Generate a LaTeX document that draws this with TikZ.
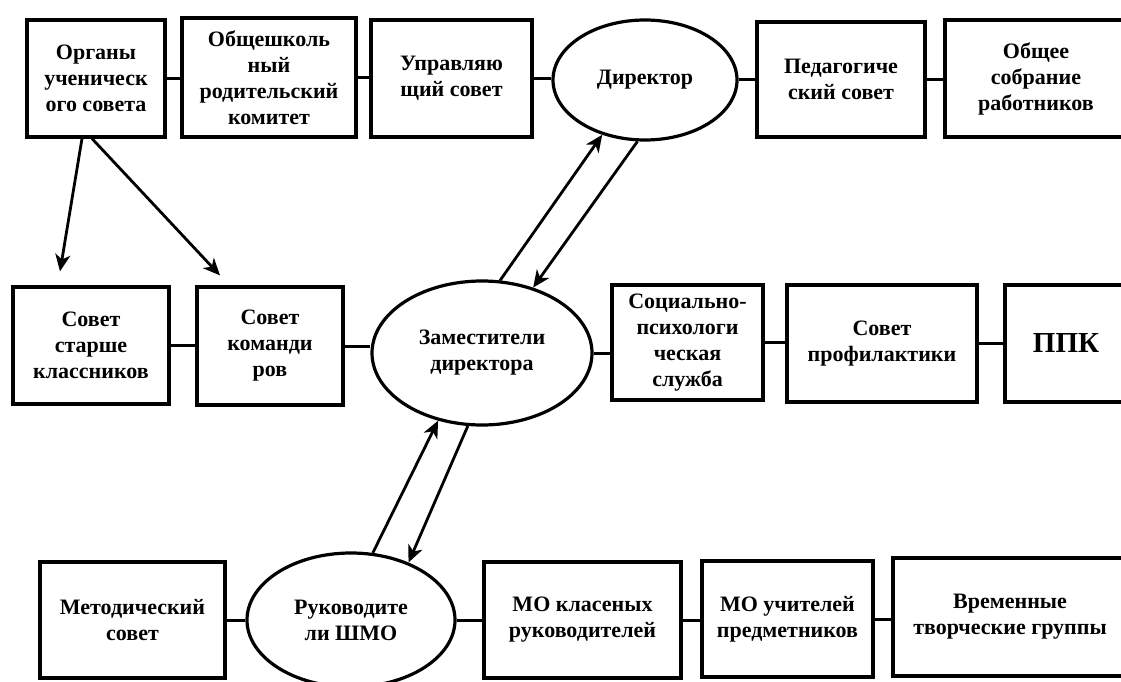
\documentclass[tikz,border=0pt]{standalone}
\usepackage{fontspec}
\setmainfont{Liberation Serif}
\usetikzlibrary{arrows.meta,shapes.geometric}
\tikzset{
  blok/.style={draw, line width=3.2pt, align=center, inner sep=2pt,
    font=\bfseries\fontsize{22}{26}\selectfont},
  oval/.style={blok, ellipse},
  svyaz/.style={line width=3pt},
  strelka/.style={line width=2.8pt, -{Stealth[length=17pt,width=15pt,inset=5pt]}}
}
\begin{document}
\begin{tikzpicture}[x=1pt,y=-1pt]
		\useasboundingbox (0,0) rectangle (1121,682);
		% Верхний ряд
		\node[blok,minimum width=138pt,minimum height=117pt] (org) at (96,78.5) {Органы\\ученическ\\ого совета};
		\node[blok,minimum width=174pt,minimum height=119pt] (rodk) at (269,77.5) {Общешколь\\ный\\родительский\\комитет};
		\node[blok,minimum width=161pt,minimum height=117pt] (upr) at (451.5,78.5) {Управляю\\щий совет};
		\node[oval,minimum width=184pt,minimum height=120pt] (dir) at (645,80) {Директор};
		\node[blok,minimum width=168pt,minimum height=115pt] (ped) at (841,79.5) {Педагогиче\\ский совет};
		\node[blok,minimum width=182pt,minimum height=117pt] (obsh) at (1036,78.5) {Общее\\собрание\\работников};
		% Средний ряд
		\node[blok,minimum width=156pt,minimum height=117pt] (starsh) at (91,345.5) {Совет\\старше\\классников};
		\node[blok,minimum width=146pt,minimum height=118pt] (komand) at (270,346) {Совет\\команди\\ров};
		\node[oval,minimum width=220pt,minimum height=144pt] (zam) at (482,353) {Заместители\\директора};
		\node[blok,minimum width=151pt,minimum height=115pt] (sps) at (687.5,342.5) {Социально-\\психологи\\ческая\\служба};
		\node[blok,minimum width=190pt,minimum height=117pt] (prof) at (882,343.5) {Совет\\профилактики};
		\node[blok,minimum width=122pt,minimum height=117pt,font=\bfseries\fontsize{29}{32}\selectfont] (ppk) at (1066,343.5) {ППК};
		% Нижний ряд
		\node[blok,minimum width=185pt,minimum height=116pt] (metod) at (132.5,620) {Методический\\совет};
		\node[oval,minimum width=208pt,minimum height=134pt] (shmo) at (351,620) {Руководите\\ли ШМО};
		\node[blok,minimum width=197pt,minimum height=116pt] (mokl) at (582.5,620) {МО класеных\\руководителей};
		\node[blok,minimum width=171pt,minimum height=116pt] (moup) at (787.5,619) {МО учителей\\предметников};
		\node[blok,minimum width=234pt,minimum height=118pt] (vrem) at (1010,617) {Временные\\творческие группы};
		% Связи
		\draw[svyaz] (org.east) -- (org.east -| rodk.west);
		\draw[svyaz] (rodk.east) -- (rodk.east -| upr.west);
		\draw[svyaz] (upr.east) -- (upr.east -| dir.west);
		\draw[svyaz] (dir.east) -- (dir.east -| ped.west);
		\draw[svyaz] (ped.east) -- (ped.east -| obsh.west);
		\draw[svyaz] (starsh.east) -- (starsh.east -| komand.west);
		\draw[svyaz] (komand.east) -- (komand.east -| zam.west);
		\draw[svyaz] (zam.east) -- (zam.east -| sps.west);
		\draw[svyaz] (sps.east) -- (sps.east -| prof.west);
		\draw[svyaz] (prof.east) -- (prof.east -| ppk.west);
		\draw[svyaz] (metod.east) -- (metod.east -| shmo.west);
		\draw[svyaz] (shmo.east) -- (shmo.east -| mokl.west);
		\draw[svyaz] (mokl.east) -- (mokl.east -| moup.west);
		\draw[svyaz] (moup.east) -- (moup.east -| vrem.west);
		% Стрелки
		\draw[strelka] ([xshift=-14pt]org.south) -- ([xshift=-31pt,yshift=14pt]starsh.north);
		\draw[strelka] ([xshift=-4pt]org.south) -- ([xshift=-50pt,yshift=10pt]komand.north);
		\draw[strelka] (zam.76) -- (dir.232);
		\draw[strelka] (dir.263) -- (zam.52);
		\draw[strelka] (shmo.72) -- (zam.237);
		\draw[strelka] (zam.259) -- (shmo.45);
\end{tikzpicture}
\end{document}
